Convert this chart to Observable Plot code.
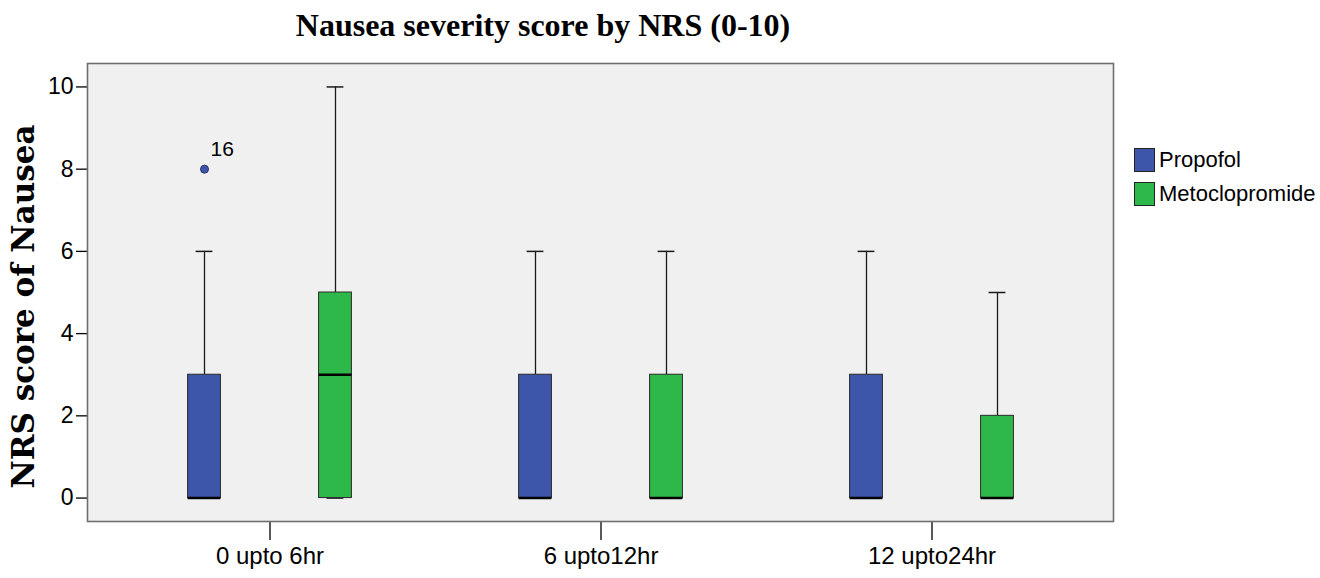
<!DOCTYPE html>
<html>
<head>
<meta charset="utf-8">
<script src="https://cdn.jsdelivr.net/npm/d3@7"></script>
<script src="https://cdn.jsdelivr.net/npm/@observablehq/plot@0.6"></script>
<style>
  html, body { margin: 0; padding: 0; background: #fff; }
  #wrap { position: relative; width: 1320px; height: 578px; overflow: hidden; background: #fff; }
  #title { position: absolute; left: 0; width: 1086px; top: 7px; text-align: center;
           font-family: "Liberation Serif", "DejaVu Serif", serif; font-weight: bold; font-size: 32px; color: #000; }
  #chart { position: absolute; left: 0; top: 50px; }
  #legend { position: absolute; left: 1134px; top: 143px; font-family: "Liberation Sans", Arial, sans-serif; font-size: 22px; color: #000; }
  .item { display: flex; align-items: center; height: 34px; }
  .sw { width: 19px; height: 22px; border: 1px solid #222; margin-right: 4px; box-sizing: content-box; }
</style>
</head>
<body>
<div id="wrap">
  <div id="title">Nausea severity score by NRS (0-10)</div>
  <div id="chart"></div>
  <div id="legend"></div>
</div>
<script>
const groups = ["0 upto 6hr", "6 upto12hr", "12 upto24hr"];
const treatments = ["Propofol", "Metoclopromide"];
const colors = ["#3d56a9", "#2fb84a"];

const propofolLow = [0, 0, 0];
const propofolQ1 = [0, 0, 0];
const propofolMedian = [0, 0, 0];
const propofolQ3 = [3, 3, 3];
const propofolHigh = [6, 6, 6];

const metoLow = [0, 0, 0];
const metoQ1 = [0, 0, 0];
const metoMedian = [3, 0, 0];
const metoQ3 = [5, 3, 2];
const metoHigh = [10, 6, 5];

const outlierGroup = ["0 upto 6hr"];
const outlierTreatment = ["Propofol"];
const outlierValue = [8];
const outlierLabel = ["16"];

const yTicks = [0, 2, 4, 6, 8, 10];
const yLabel = "NRS score of Nausea";

const stats = {
  Propofol: {low: propofolLow, q1: propofolQ1, median: propofolMedian, q3: propofolQ3, high: propofolHigh},
  Metoclopromide: {low: metoLow, q1: metoQ1, median: metoMedian, q3: metoQ3, high: metoHigh}
};
const table = [];
treatments.forEach(t => groups.forEach((g, i) => table.push({
  group: g, treatment: t,
  low: stats[t].low[i], q1: stats[t].q1[i], median: stats[t].median[i], q3: stats[t].q3[i], high: stats[t].high[i]
})));
const outliers = outlierGroup.map((g, i) => ({group: g, treatment: outlierTreatment[i], value: outlierValue[i], label: outlierLabel[i]}));

const bandwidth = 1026 / (3 + 2 * 0.049);
const offset = {Propofol: -65.5, Metoclopromide: 65.5};
const boxInset = (bandwidth - 33) / 2;
const capInset = (bandwidth - 17) / 2;

const boxMarks = treatments.flatMap(t => {
  const d = table.filter(r => r.treatment === t);
  const dx = offset[t];
  return [
    Plot.ruleX(d, {x: "group", y1: "q3", y2: "high", dx, stroke: "#1a1a1a", strokeWidth: 1.3}),
    Plot.ruleX(d, {x: "group", y1: "low", y2: "q1", dx, stroke: "#1a1a1a", strokeWidth: 1.3}),
    Plot.tickY(d, {x: "group", y: "high", dx, insetLeft: capInset, insetRight: capInset, stroke: "#1a1a1a", strokeWidth: 1.5}),
    Plot.tickY(d, {x: "group", y: "low", dx, insetLeft: capInset, insetRight: capInset, stroke: "#1a1a1a", strokeWidth: 1.5}),
    Plot.barY(d, {x: "group", y1: "q1", y2: "q3", dx, fill: "treatment", stroke: "#2a2a2a", strokeWidth: 1, insetLeft: boxInset, insetRight: boxInset}),
    Plot.tickY(d, {x: "group", y: "median", dx, insetLeft: boxInset, insetRight: boxInset, stroke: "#000", strokeWidth: 2.5})
  ];
});

const outlierMarks = treatments.flatMap(t => {
  const d = outliers.filter(r => r.treatment === t);
  const dx = offset[t];
  return [
    Plot.dot(d, {x: "group", y: "value", dx, r: 4, fill: "treatment", stroke: "#23336b", strokeWidth: 1}),
    Plot.text(d, {x: "group", y: "value", text: "label", dx: dx + 6, dy: -20, textAnchor: "start", fontSize: 21, fill: "#000"})
  ];
});

const chart = Plot.plot({
  width: 1120,
  height: 528,
  marginTop: 13,
  marginBottom: 57,
  marginLeft: 87,
  marginRight: 7,
  style: {fontFamily: "'Liberation Sans', Arial, sans-serif", fontSize: "24px", background: "transparent", color: "#000"},
  x: {domain: groups, paddingInner: 0, paddingOuter: 0.049, label: null},
  y: {domain: [-0.57, 10.57], label: null},
  color: {domain: treatments, range: colors},
  marks: [
    Plot.frame({fill: "#f0f0f0", stroke: null}),
    Plot.axisY({ticks: yTicks, tickSize: 11, tickPadding: 3, label: null, stroke: "#000", strokeWidth: 1.3, fontSize: 23}),
    Plot.axisX({tickSize: 19, tickPadding: 6, label: null, stroke: "#000", strokeWidth: 1.3, fontSize: 24}),
    ...boxMarks,
    ...outlierMarks,
    Plot.frame({stroke: "#6e6e6e", strokeWidth: 1.6, fill: null}),
    Plot.text([yLabel], {text: d => d, frameAnchor: "left", textAnchor: "middle", rotate: -90, dx: -63, dy: 14,
      fontFamily: "'DejaVu Serif', serif", fontWeight: "bold", fontSize: 31, fill: "#000"})
  ]
});
document.getElementById("chart").appendChild(chart);

const legend = document.getElementById("legend");
treatments.forEach((t, i) => {
  const item = document.createElement("div");
  item.className = "item";
  const sw = document.createElement("div");
  sw.className = "sw";
  sw.style.background = colors[i];
  const label = document.createElement("span");
  label.textContent = t;
  item.appendChild(sw);
  item.appendChild(label);
  legend.appendChild(item);
});
</script>
</body>
</html>
